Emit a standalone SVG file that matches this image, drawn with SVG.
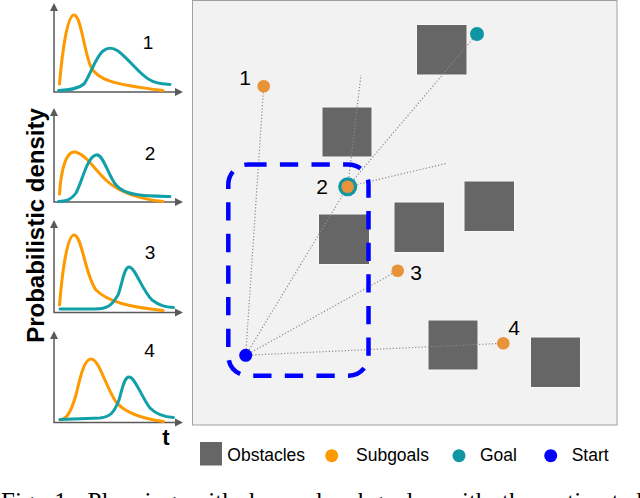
<svg xmlns="http://www.w3.org/2000/svg" width="640" height="498" viewBox="0 0 640 498">
<defs>
<style>
.ax{stroke:#5a5a5a;stroke-width:1.5;fill:none}
.ah{fill:#5a5a5a}
.or{stroke:#ff9900;stroke-width:3;fill:none;stroke-linecap:round}
.te{stroke:#12a0a8;stroke-width:3;fill:none;stroke-linecap:round}
.lbl{font-family:"Liberation Sans",Arial,sans-serif;fill:#000}
.obs{fill:#666666;stroke:#f8f8f8;stroke-width:1}
.dot{stroke:#8a8a8a;stroke-width:1.2;stroke-dasharray:1.2 2;fill:none}
.sg{fill:#e8923a}
</style>
</defs>
<rect width="640" height="498" fill="#ffffff"/>
<g id="charts">
<g id="chart1">
<path class="ax" d="M54,8 V92 H178"/>
<path class="ah" d="M54,3 L50,11 L58,11 Z"/>
<path class="ah" d="M183,92 L175,88 L175,96 Z"/>
<path class="or" d="M59.5,84 C62,55 67,15 74,15 C81,15 84,52 91,67 C97,79 110,84 163,90.5"/>
<path class="te" d="M58.5,90.5 C70,90 78,89 84,84 C90,76 96,56 103,51 C108,47 112,47 118,51 C130,60 140,75 150,80 C157,84 164,84 170,84.5"/>
<text class="lbl" x="148" y="48.5" font-size="19" text-anchor="middle">1</text>
</g>
<g id="chart2">
<path class="ax" d="M54,113 V202 H178"/>
<path class="ah" d="M54,108 L50,116 L58,116 Z"/>
<path class="ah" d="M183,202 L175,198 L175,206 Z"/>
<path class="or" d="M59.5,194 C61,170 66,152 74,152 C84,152 95,170 107,181 C120,193 140,199 163,201.5"/>
<path class="te" d="M58.5,201.5 C66,201.5 71,200 76,193 C82,182 87,157 96,155 C103,153 108,175 116,185 C125,196 145,196 170,196.5"/>
<text class="lbl" x="150" y="160" font-size="19" text-anchor="middle">2</text>
</g>
<g id="chart3">
<path class="ax" d="M54,225 V312.5 H178"/>
<path class="ah" d="M54,220 L50,228 L58,228 Z"/>
<path class="ah" d="M183,312.5 L175,308.5 L175,316.5 Z"/>
<path class="or" d="M59.5,305 C62,275 67,235 74,235 C82,235 85,275 96,290 C108,302 130,307 163,310.5"/>
<path class="te" d="M60,309 L95,309 C108,309 112,305 118,295 C122,285 124,267 129,267 C135,267 142,290 152,300 C160,306 166,307 173.5,307.5"/>
<text class="lbl" x="150" y="258.5" font-size="19" text-anchor="middle">3</text>
</g>
<g id="chart4">
<path class="ax" d="M54,336 V422.5 H178"/>
<path class="ah" d="M54,331 L50,339 L58,339 Z"/>
<path class="ah" d="M183,422.5 L175,418.5 L175,426.5 Z"/>
<path class="or" d="M60,420 C66,419 70,415 76,395 C80,378 84,359 91,359 C99,359 105,385 116,402 C126,414 145,419 163.5,421.5"/>
<path class="te" d="M60,419.5 L100,418 C110,417 114,413 119,400 C122,390 124,377 129,377 C135,377 142,398 150,408 C157,415 165,417 173.5,417.5"/>
<text class="lbl" x="149.5" y="357" font-size="19" text-anchor="middle">4</text>
</g>
<text class="lbl" transform="translate(44,225.5) rotate(-90)" font-size="24" font-weight="bold" text-anchor="middle">Probabilistic density</text>
<text class="lbl" x="166" y="445" font-size="22" font-weight="bold" text-anchor="middle">t</text>
</g>
<g id="panel">
<rect x="192.5" y="0.5" width="424.5" height="424.5" fill="#f2f2f2" stroke="#a0a0a0" stroke-width="1"/>
</g>
<g id="obstacles">
<rect id="obs1" class="obs" x="416.5" y="24.5" width="50.5" height="50.5"/>
<rect id="obs2" class="obs" x="322" y="107" width="50" height="50"/>
<rect id="obs3" class="obs" x="318.5" y="214" width="51" height="50.5"/>
<rect id="obs4" class="obs" x="394" y="202" width="50.5" height="50.5"/>
<rect id="obs5" class="obs" x="464" y="181" width="50.5" height="50.5"/>
<rect id="obs6" class="obs" x="428" y="320" width="50" height="50"/>
<rect id="obs7" class="obs" x="530.5" y="337" width="50" height="50.5"/>
</g>
<g id="connectors">
<line class="dot" x1="245.7" y1="355.3" x2="263.7" y2="86.3"/>
<line class="dot" x1="245.7" y1="355.3" x2="347.7" y2="186.7"/>
<line class="dot" x1="245.7" y1="355.3" x2="397.7" y2="270.7"/>
<line class="dot" x1="245.7" y1="355.3" x2="503.3" y2="343.3"/>
<line class="dot" x1="347.7" y1="186.7" x2="477" y2="34"/>
<line class="dot" x1="347.7" y1="186.7" x2="361" y2="75"/>
<line class="dot" x1="347.7" y1="186.7" x2="446" y2="163.5"/>
</g>
<g id="region">
<rect x="228.3" y="164.5" width="140.2" height="211.2" rx="20" ry="20" fill="none" stroke="#0000ff" stroke-width="4.5" stroke-dasharray="18.3 13.3"/>
</g>
<g id="subgoal1">
<circle class="sg" cx="263.7" cy="86.3" r="6.3"/>
<text class="lbl" x="245" y="85" font-size="21" text-anchor="middle">1</text>
</g>
<g id="subgoal2">
<circle cx="347.7" cy="186.7" r="9.5" fill="#0e97a3"/>
<circle class="sg" cx="347.7" cy="186.7" r="6.3"/>
<text class="lbl" x="322" y="194" font-size="21" text-anchor="middle">2</text>
</g>
<g id="subgoal3">
<circle class="sg" cx="397.7" cy="270.7" r="6.3"/>
<text class="lbl" x="416" y="280" font-size="21" text-anchor="middle">3</text>
</g>
<g id="subgoal4">
<circle class="sg" cx="503.3" cy="343.3" r="6.3"/>
<text class="lbl" x="514" y="335" font-size="21" text-anchor="middle">4</text>
</g>
<g id="goal">
<circle cx="477" cy="34" r="7" fill="#0e97a3"/>
</g>
<g id="start">
<circle cx="245.7" cy="355.3" r="6.5" fill="#0000ff"/>
</g>
<g id="legend">
<rect x="200" y="442" width="22" height="23.5" fill="#666666"/>
<text class="lbl" x="227.3" y="461" font-size="17.5">Obstacles</text>
<circle cx="331.7" cy="455.7" r="6.5" fill="#ff9900"/>
<text class="lbl" x="356" y="461" font-size="17.5">Subgoals</text>
<circle cx="459" cy="455.7" r="6.5" fill="#0e97a3"/>
<text class="lbl" x="480" y="461" font-size="17.5">Goal</text>
<circle cx="550.7" cy="455.7" r="6.5" fill="#0000ff"/>
<text class="lbl" x="571.7" y="461" font-size="17.5">Start</text>
</g>
<g id="caption">
<text x="1" y="510" font-family="'Liberation Serif','Times New Roman',serif" font-size="25" word-spacing="7.5" fill="#000">Fig. 1: Planning with learned subgoals: with the estimated</text>
</g>
</svg>
